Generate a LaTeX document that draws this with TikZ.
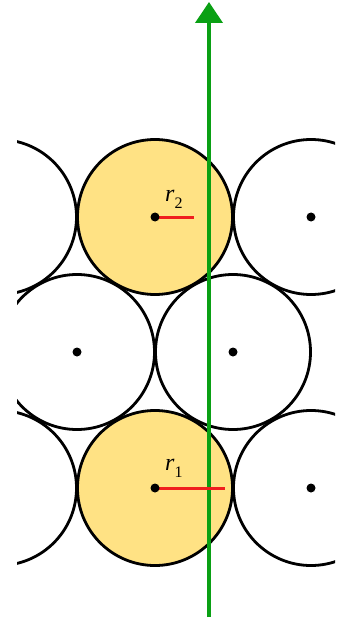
\documentclass[tikz,border=0pt]{standalone}
\usepackage{fontspec}
\setmainfont{Liberation Serif}
\usetikzlibrary{arrows.meta}
\definecolor{ballyellow}{RGB}{255,226,132}
\definecolor{axisgreen}{RGB}{10,160,20}
\definecolor{radred}{RGB}{240,30,30}
\newcommand{\rsub}[1]{\textit{r}\raisebox{-7pt}{\fontsize{16}{17}\selectfont #1}}
\begin{document}
\begin{tikzpicture}[x=1pt,y=-1pt,
  ball/.style={draw=black,line width=2.8pt},
  hot/.style={ball,fill=ballyellow},
  cold/.style={ball,fill=white},
  centerdot/.style={fill=black},
  radius line/.style={draw=radred,line width=3pt},
  rlabel/.style={font=\fontsize{24}{26}\selectfont,inner sep=0pt,anchor=base west},
  axis/.style={draw=axisgreen,line width=4pt,-{Triangle[width=27pt,length=21pt]}}]
\useasboundingbox (0,0) rectangle (349,620);
\def\rr{77.5}
% centres
\coordinate (c00) at (-1,217);
\coordinate (c01) at (155,217);
\coordinate (c02) at (311,217);
\coordinate (c10) at (77,352);
\coordinate (c11) at (233,352);
\coordinate (c20) at (-1,488);
\coordinate (c21) at (155,488);
\coordinate (c22) at (311,488);
\begin{scope}
\clip (17,0) rectangle (335,620);
\draw[cold] (c00) circle[radius=\rr];
\draw[hot] (c01) circle[radius=\rr];
\draw[cold] (c02) circle[radius=\rr];
\draw[cold] (c20) circle[radius=\rr];
\draw[hot] (c21) circle[radius=\rr];
\draw[cold] (c22) circle[radius=\rr];
\draw[cold] (c10) circle[radius=\rr];
\draw[cold] (c11) circle[radius=\rr];
\end{scope}
% axis
\coordinate (axbot) at (209,617);
\coordinate (axtop) at (209,2);
\draw[axis] (axbot) -- (axtop);
% radii
\coordinate (r2end) at (194,217);
\coordinate (r1end) at (225,488);
\draw[radius line] (c01) -- (r2end);
\draw[radius line] (c21) -- (r1end);
% dots
\foreach \c in {c01,c02,c10,c11,c21,c22}
  \fill[centerdot] (\c) circle[radius=4.5pt];
% labels
\node[rlabel] (lab2) at (165,201) {\rsub{2}};
\node[rlabel] (lab1) at (165,470) {\rsub{1}};
\end{tikzpicture}
\end{document}
